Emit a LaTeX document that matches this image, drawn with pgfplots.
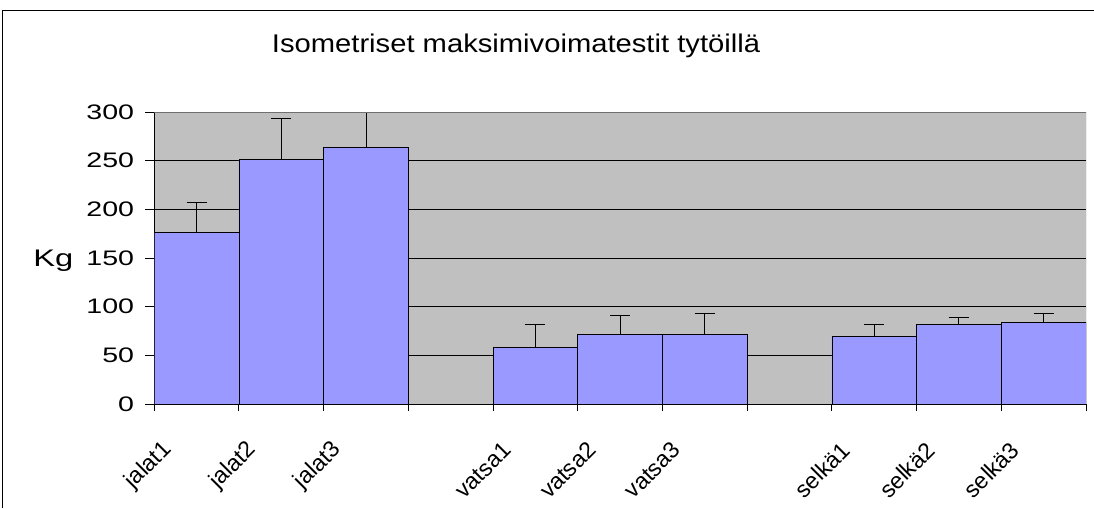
\documentclass[border=0pt]{standalone}
\usepackage{fontspec}
\setmainfont{Liberation Sans}
\newfontfamily\tickfont[FakeStretch=1.36]{Liberation Sans}
\newfontfamily\titlefont[FakeStretch=1.14]{Liberation Sans}
\usepackage{pgfplots}
\pgfplotsset{compat=1.18}
\definecolor{barblue}{HTML}{9999FF}
\definecolor{plotgray}{HTML}{C0C0C0}
\definecolor{bordergray}{HTML}{707070}
\newcommand\yfont{\tickfont\fontsize{15.75}{18}\selectfont}
\newcommand\xfont{\fontsize{17.3}{20}\selectfont}

\begin{document}
\begin{tikzpicture}
\useasboundingbox (0pt,0pt) rectangle (820.5pt,381pt);
\draw[line width=1.1pt] (1.9pt,0pt) -- (1.9pt,373pt) -- (820.5pt,373pt);
\node[font=\titlefont\fontsize{19.2}{22}\selectfont, anchor=base] at (387pt,341.8pt) {Isometriset maksimivoimatestit tytöillä};
\node[font=\tickfont\fontsize{18}{20}\selectfont, anchor=base west, inner sep=0pt] at (24.75pt,181pt) {Kg};
\begin{axis}[
  at={(115.7pt,78pt)}, anchor=south west,
  scale only axis, width=698.8pt, height=219pt,
  ybar, bar width=1,
  xmin=-0.5, xmax=10.5, ymin=0, ymax=300,
  ytick={0,50,...,300},
  xtick={0,...,10},
  xticklabels={{\xfont jalat1},{\xfont jalat2},{\xfont jalat3},,{\xfont vatsa1},{\xfont vatsa2},{\xfont vatsa3},,{\xfont selkä1},{\xfont selkä2},{\xfont selkä3}},
  minor xtick={-0.5,0.5,...,10.5},
  major x tick style={draw=none},
  tick align=outside,
  ymajorgrids, major grid style={black, line width=0.75pt},
  axis background/.style={fill=plotgray},
  axis x line*=bottom, axis y line*=left,
  axis line style={-, black, line width=0.75pt},
  major tick length=6.75pt, minor tick length=5.25pt,
  tick style={black, line width=0.75pt},
  yticklabel={\yfont\pgfmathprintnumber[assume math mode=true]{\tick}},
  yticklabel style={xshift=-4.9pt},
  xticklabel style={xshift=-18.9pt, yshift=-22.4pt, rotate=45, anchor=east},
]
\addplot[fill=barblue, draw=black, line width=0.6pt,
  error bars/.cd, y dir=plus, y explicit,
  error bar style={black, line width=0.75pt},
  error mark options={rotate=90, black, line width=0.75pt, mark size=7.5pt}]
  coordinates {
  (0,176) +- (0,31)
  (1,251) +- (0,42)
  (2,264) +- (0,40)
  (4,58) +- (0,24)
  (5,71) +- (0,20)
  (6,71) +- (0,22)
  (8,69) +- (0,13)
  (9,82) +- (0,7)
  (10,83.5) +- (0,9.3)
  };
\draw[bordergray, line width=0.75pt] (rel axis cs:0,1) -- (rel axis cs:1,1) -- (rel axis cs:1,0);
\end{axis}
\end{tikzpicture}
\end{document}
